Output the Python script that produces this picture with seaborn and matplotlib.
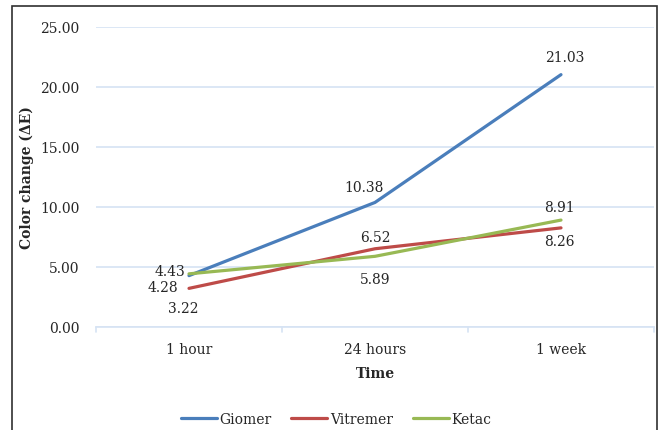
import pandas as pd
import matplotlib.pyplot as plt
import seaborn as sns
from matplotlib.patches import Rectangle

# ---------------------------
# Data
# ---------------------------

times = ["1 hour", "24 hours", "1 week"]
materials = ["Giomer", "Vitremer", "Ketac"]
giomer = [4.28, 10.38, 21.03]
vitremer = [3.22, 6.52, 8.26]
ketac = [4.43, 5.89, 8.91]

colors = ["#4A7EBB", "#BE4B48", "#98B954"]

df = pd.DataFrame({
    "Time": times * 3,
    "Material": [m for m in materials for _ in times],
    "Delta_E": giomer + vitremer + ketac,
})

sns.set_style("white")
plt.rcParams["font.family"] = ["DejaVu Serif"]

fs = 10

fig = plt.figure(figsize=(6.62, 4.31), dpi=100)
ax = fig.add_axes([96 / 662, 1 - 328 / 431, 558 / 662, 300 / 431])

sns.lineplot(
    data=df,
    x="Time",
    y="Delta_E",
    hue="Material",
    hue_order=materials,
    palette=colors,
    linewidth=2.3,
    sort=False,
    legend=True,
    ax=ax
)

# data labels (offsets in points)
offsets = {
    "Giomer": [(-19, -8), (-8, 11), (3, 12.5)],
    "Vitremer": [(-4, -14), (0, 8.5), (-1, -9.5)],
    "Ketac": [(-14, 2), (0, -16), (-1, 9.5)],
}
for m, vals in zip(materials, [giomer, vitremer, ketac]):
    for i, v in enumerate(vals):
        ax.annotate(
            f"{v:.2f}", (i, v), xytext=offsets[m][i], textcoords="offset points",
            ha="center", va="center", fontsize=fs, color="#262626"
        )

ax.set_xlim(-0.5, 2.5)
ax.set_ylim(0, 25)
ax.set_yticks([0, 5, 10, 15, 20, 25])
ax.set_yticklabels([f"{t:.2f}" for t in [0, 5, 10, 15, 20, 25]], fontsize=fs, color="#262626")
ax.set_xticks([0, 1, 2])
ax.set_xticklabels(times, fontsize=fs, color="#262626")
ax.tick_params(axis="x", length=0, pad=11)
ax.tick_params(axis="y", length=0, pad=12)

ax.yaxis.grid(True, color="#D6E3F3", linewidth=1.2)
ax.set_axisbelow(True)
for s in ["top", "right", "left"]:
    ax.spines[s].set_visible(False)
ax.spines["bottom"].set_color("#D6E3F3")
ax.spines["bottom"].set_linewidth(1.2)

# category boundary ticks
for xb in [-0.5, 0.5, 1.5, 2.5]:
    ax.plot([xb, xb], [0, -0.45], color="#D6E3F3", linewidth=1.2, clip_on=False)

ax.set_xlabel("Time", fontsize=fs, fontweight="bold", color="#262626", labelpad=7)
ax.set_ylabel("Color change (ΔE)", fontsize=fs, fontweight="bold", color="#262626", labelpad=4)

handles, labels = ax.get_legend_handles_labels()
ax.get_legend().remove()
fig.legend(
    handles, labels, loc="center", ncol=3,
    bbox_to_anchor=(336 / 662, 1 - 420 / 431),
    frameon=False, fontsize=fs, handlelength=2.6, handletextpad=0.2,
    columnspacing=1.4
)

# outer frame
fig.patches.append(Rectangle(
    (12 / 662, -0.05), 645 / 662, 1.05 - 7 / 431,
    transform=fig.transFigure, fill=False, edgecolor="#303030", linewidth=1.2
))

plt.savefig("out.png", dpi=100)
